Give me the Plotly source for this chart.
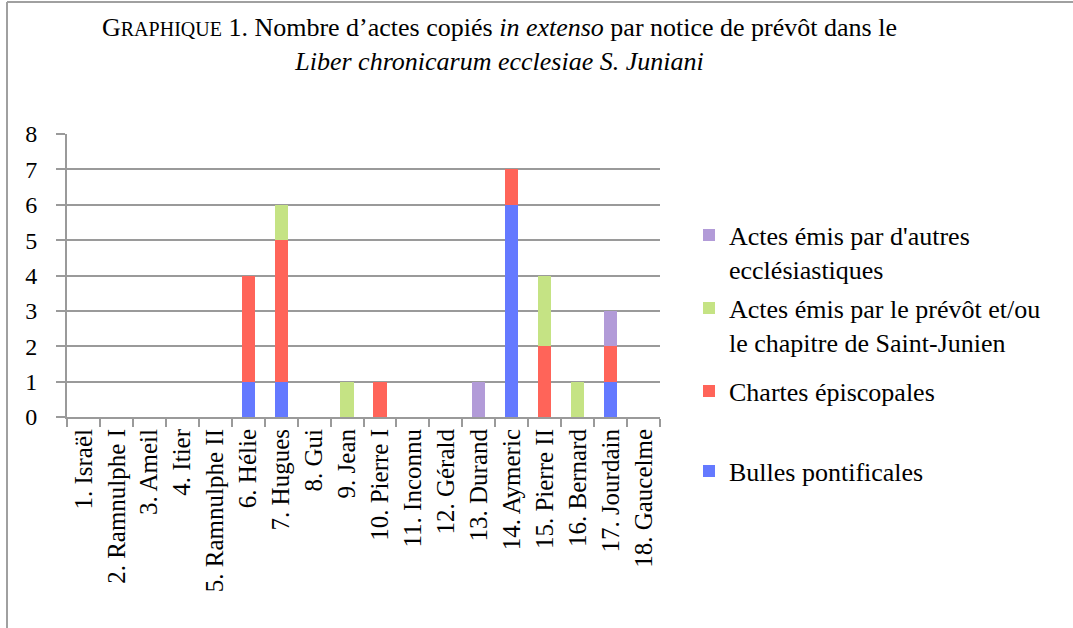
import plotly.graph_objects as go

W, H = 1073, 628
L, R, T, B = 67, 660, 134, 417  # plot area in pixels

categories = ["1. Israël", "2. Ramnulphe I", "3. Ameil", "4. Itier", "5. Ramnulphe II",
              "6. Hélie", "7. Hugues", "8. Gui", "9. Jean", "10. Pierre I", "11. Inconnu",
              "12. Gérald", "13. Durand", "14. Aymeric", "15. Pierre II", "16. Bernard",
              "17. Jourdain", "18. Gaucelme"]
bulles = [0, 0, 0, 0, 0, 1, 1, 0, 0, 0, 0, 0, 0, 6, 0, 0, 1, 0]
chartes = [0, 0, 0, 0, 0, 3, 4, 0, 0, 1, 0, 0, 0, 1, 2, 0, 1, 0]
prevot = [0, 0, 0, 0, 0, 0, 1, 0, 1, 0, 0, 0, 0, 0, 2, 1, 0, 0]
autres = [0, 0, 0, 0, 0, 0, 0, 0, 0, 0, 0, 0, 1, 0, 0, 0, 1, 0]
y_ticks = [0, 1, 2, 3, 4, 5, 6, 7, 8]

series = [
    ("Bulles pontificales", bulles, "#6479FF", "legend4", 471),
    ("Chartes épiscopales", chartes, "#FF6459", "legend3", 391),
    ("Actes émis par le prévôt et/ou<br>le chapitre de Saint-Junien", prevot, "#C5E384", "legend2", 325),
    ("Actes émis par d'autres<br>ecclésiastiques", autres, "#B29BD8", "legend", 252),
]

def px_x(px):
    return (px - L) / (R - L)

def px_y(py):
    return (B - py) / (B - T)

FONT = "Liberation Serif"
fig = go.Figure()
legend_layouts = {}
for name, vals, col, lg, yc in series:
    fig.add_trace(go.Bar(x=categories, y=vals, name=name, marker=dict(color=col, line=dict(width=0)),
                         legend=lg))
    legend_layouts[lg] = dict(x=px_x(689), xanchor="left", y=px_y(yc), yanchor="middle",
                              valign="top", font=dict(family=FONT, size=26, color="#000"),
                              bgcolor="rgba(0,0,0,0)", borderwidth=0, itemwidth=30)

fig.update_layout(
    width=W, height=H,
    margin=dict(l=L, r=W - R, t=T, b=H - B, pad=0),
    barmode="stack", bargap=0.6,
    plot_bgcolor="white", paper_bgcolor="white",
    font=dict(family=FONT, size=25, color="#000"),
    showlegend=True,
    **legend_layouts,
    xaxis=dict(type="category", tickangle=-90, tickson="boundaries", ticks="outside",
               ticklen=8, tickwidth=2, tickcolor="#9a9a9a", showline=True, linecolor="#9a9a9a",
               linewidth=2, showgrid=False, tickfont=dict(family=FONT, size=25)),
    yaxis=dict(range=[0, 8], tickvals=y_ticks, ticks="outside", ticklen=9, tickwidth=2,
               tickcolor="#9a9a9a", showgrid=True, gridcolor="#9a9a9a", gridwidth=2,
               showline=True, linecolor="#9a9a9a", linewidth=2, zeroline=False,
               tickfont=dict(family=FONT, size=24), ticklabelstandoff=14),
)

title = ("G<span style='font-size:20px'>RAPHIQUE</span> 1. Nombre d’actes copiés <i>in extenso</i> "
         "par notice de prévôt dans le<br><i>Liber chronicarum ecclesiae S. Juniani</i>")
fig.add_annotation(text=title, xref="paper", yref="paper", x=px_x(499), y=px_y(11),
                   xanchor="center", yanchor="top", showarrow=False, align="center",
                   font=dict(family=FONT, size=26, color="#000"))

# outer frame (left and top edges)
fig.add_shape(type="line", xref="paper", yref="paper", x0=px_x(7), x1=px_x(7), y0=px_y(2), y1=px_y(640),
              line=dict(color="#a0a0a0", width=2))
fig.add_shape(type="line", xref="paper", yref="paper", x0=px_x(7), x1=px_x(1080), y0=px_y(2), y1=px_y(2),
              line=dict(color="#a0a0a0", width=2))

fig.write_html("out.html", config={"displayModeBar": False},
               post_script="document.body.style.margin='0';")
